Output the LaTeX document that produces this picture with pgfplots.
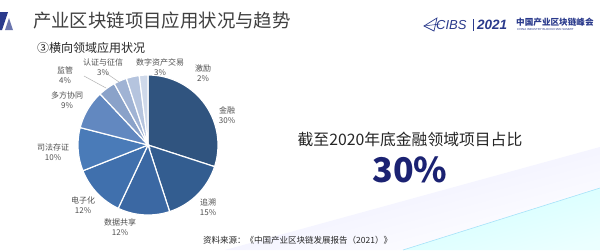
\documentclass[border=0pt]{standalone}
\usepackage{pgfplots}
\pgfplotsset{compat=1.18}
\usepgfplotslibrary{polar}
\usepackage{fontspec}
\setmainfont{Noto Sans CJK SC}
\newfontfamily\cjk{Noto Sans CJK SC}
\newfontfamily\lat{Liberation Sans}
\definecolor{cA}{HTML}{30547F}
\definecolor{cB}{HTML}{335D90}
\definecolor{cC}{HTML}{3B68A3}
\definecolor{cD}{HTML}{4070AD}
\definecolor{cE}{HTML}{4A7BB8}
\definecolor{cF}{HTML}{6288C0}
\definecolor{cG}{HTML}{8AA2C9}
\definecolor{cH}{HTML}{A0B3D4}
\definecolor{cI}{HTML}{B5C4DE}
\definecolor{cJ}{HTML}{CFD9EA}
\definecolor{navy}{HTML}{1B2272}
\definecolor{logo}{HTML}{2A3A8C}
\definecolor{lbl}{HTML}{505050}
\begin{document}
\begin{tikzpicture}[x=1pt,y=1pt]
\useasboundingbox (0,0) rectangle (600,250);
\clip (0,0) rectangle (600,250);
% canvas
\fill[white] (0,0) rectangle (600,250);
% background bands
\shade[top color=black!4!blue!8!white, bottom color=white, shading angle=15] (225,0) -- (600,103) -- (600,62) -- (403,0) -- cycle;
\shade[top color=cyan!18!white, bottom color=cyan!8!white, shading angle=15] (403,0) -- (600,62) -- (600,0) -- cycle;
\draw[cyan!35!white, line width=0.6pt] (403,0) -- (600,62);
% top-left logo
\fill[logo] (0,238) -- (8,238) -- (2,220) -- (-6,220) -- cycle;
\fill[logo!70!white] (9,232) -- (13,220) -- (5,220) -- cycle;
% title
\node[anchor=west, text=black!75, font=\cjk\fontsize{18.4}{20}\selectfont, inner sep=0] at (33,230) {产业区块链项目应用状况与趋势};
\node[anchor=west, text=black!85, font=\cjk\fontsize{12}{14}\selectfont, inner sep=0] at (37,202) {③横向领域应用状况};
% top-right logo
\draw[logo, line width=0.7pt] (424,224) -- (437,232) -- (434,219) -- cycle;
\draw[logo, line width=0.5pt] (424,224) -- (440,226);
\node[anchor=west, text=logo, font=\lat\itshape\fontsize{13}{13}\selectfont, inner sep=0] at (436,225) {CIBS};
\fill[logo] (473,219) rectangle (474.2,231);
\node[anchor=west, text=logo, font=\lat\bfseries\itshape\fontsize{13.5}{13}\selectfont, inner sep=0] at (477,225) {2021};
\node[anchor=west, text=logo, font=\cjk\bfseries\fontsize{8.6}{9}\selectfont, inner sep=0] at (516,228) {中国产业区块链峰会};
\node[anchor=west, text=logo, font=\lat\fontsize{2.9}{3}\selectfont, inner sep=0] at (517,220.5) {CHINA INDUSTRY BLOCKCHAIN SUMMIT};
% pie
\pgfmathsetmacro\aA{90}
\pgfmathsetmacro\aB{\aA-3.6*30}
\pgfmathsetmacro\aC{\aB-3.6*15}
\pgfmathsetmacro\aD{\aC-3.6*12}
\pgfmathsetmacro\aE{\aD-3.6*12}
\pgfmathsetmacro\aF{\aE-3.6*10}
\pgfmathsetmacro\aG{\aF-3.6*9}
\pgfmathsetmacro\aH{\aG-3.6*4}
\pgfmathsetmacro\aI{\aH-3.6*3}
\pgfmathsetmacro\aJ{\aI-3.6*3}
\pgfmathsetmacro\aK{\aJ-3.6*2}
\begin{polaraxis}[at={(148pt,105pt)}, anchor=center, width=140pt, height=140pt, scale only axis,
  ymin=0, ymax=1, hide axis, clip=false]
\addplot[fill=cA, draw=white, line width=1.2pt, domain=\aB:\aA, samples=60] {1} -- (axis cs:0,0) -- cycle;
\addplot[fill=cB, draw=white, line width=1.2pt, domain=\aC:\aB, samples=40] {1} -- (axis cs:0,0) -- cycle;
\addplot[fill=cC, draw=white, line width=1.2pt, domain=\aD:\aC, samples=30] {1} -- (axis cs:0,0) -- cycle;
\addplot[fill=cD, draw=white, line width=1.2pt, domain=\aE:\aD, samples=30] {1} -- (axis cs:0,0) -- cycle;
\addplot[fill=cE, draw=white, line width=1.2pt, domain=\aF:\aE, samples=30] {1} -- (axis cs:0,0) -- cycle;
\addplot[fill=cF, draw=white, line width=1.2pt, domain=\aG:\aF, samples=30] {1} -- (axis cs:0,0) -- cycle;
\addplot[fill=cG, draw=white, line width=1.2pt, domain=\aH:\aG, samples=15] {1} -- (axis cs:0,0) -- cycle;
\addplot[fill=cH, draw=white, line width=1.2pt, domain=\aI:\aH, samples=10] {1} -- (axis cs:0,0) -- cycle;
\addplot[fill=cI, draw=white, line width=1.2pt, domain=\aJ:\aI, samples=10] {1} -- (axis cs:0,0) -- cycle;
\addplot[fill=cJ, draw=white, line width=1.2pt, domain=\aK:\aJ, samples=8] {1} -- (axis cs:0,0) -- cycle;
\end{polaraxis}
% leader lines
\draw[black!30, line width=0.5pt] (84,174) -- (106,162);
\draw[black!30, line width=0.5pt] (106,177) -- (119,168);
% labels
\tikzset{pl/.style={align=center, text=lbl, font=\cjk\fontsize{8}{10}\selectfont, inner sep=0}}
\node[pl] at (227,135) {金融\\30\%};
\node[pl] at (208,43) {追溯\\15\%};
\node[pl] at (120,23) {数据共享\\12\%};
\node[pl] at (83,45) {电子化\\12\%};
\node[pl] at (53,98) {司法存证\\10\%};
\node[pl] at (67,150) {多方协同\\9\%};
\node[pl] at (65,175) {监管\\4\%};
\node[pl] at (103,183) {认证与征信\\3\%};
\node[pl] at (160,183) {数字资产交易\\3\%};
\node[pl] at (203,177) {激励\\2\%};
% right text
\node[text=black!85, font=\cjk\fontsize{15.8}{17}\selectfont, inner sep=0] at (410,111) {截至2020年底金融领域项目占比};
\node[text=navy, font=\cjk\bfseries\fontsize{34}{36}\selectfont, inner sep=0] at (410,80) {30\%};
% source
\node[anchor=west, text=black!85, font=\cjk\fontsize{8.5}{9}\selectfont, inner sep=0] at (203,10) {资料来源：《中国产业区块链发展报告（2021）》};
\end{tikzpicture}
\end{document}
